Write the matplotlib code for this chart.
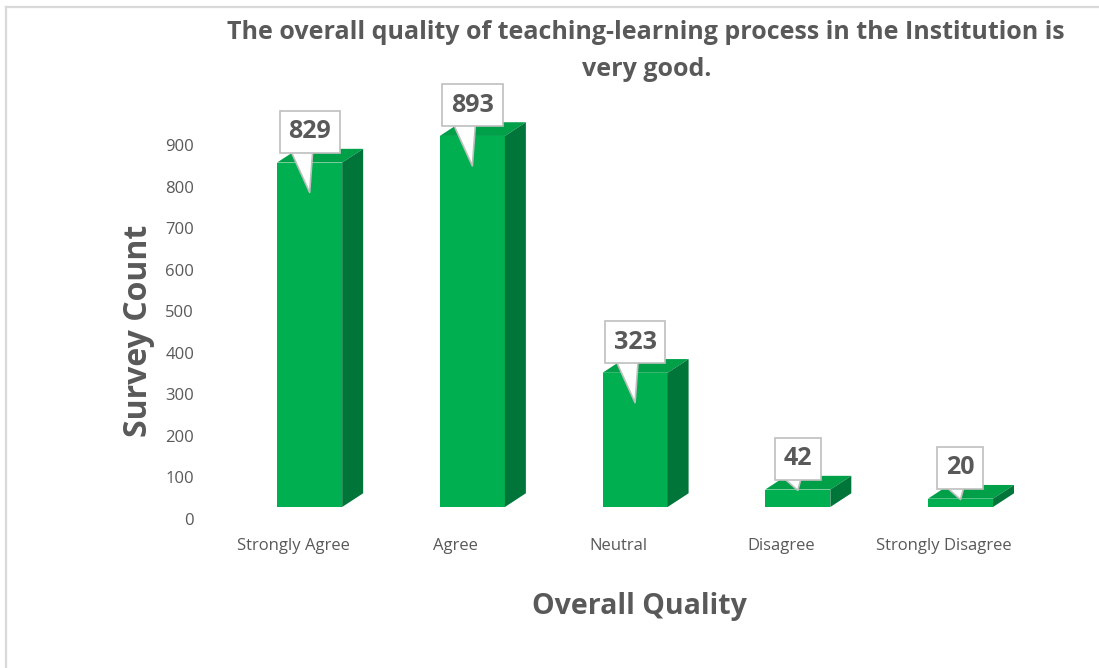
import matplotlib.pyplot as plt
from matplotlib.patches import Polygon
from matplotlib.lines import Line2D

categories = ['Strongly Agree', 'Agree', 'Neutral', 'Disagree', 'Strongly Disagree']
counts = [829, 893, 323, 42, 20]
y_ticks = [0, 100, 200, 300, 400, 500, 600, 700, 800, 900]

TITLE = 'The overall quality of teaching-learning process in the Institution is\nvery good.'
TEXT_GRAY = '#595959'
FRONT = '#00b050'
TOP = '#00a049'
SIDE = '#00753a'

plt.rcParams['font.family'] = ['Open Sans', 'DejaVu Sans']


def main():
    fig = plt.figure(figsize=(10.99, 6.68), dpi=100)
    ax = fig.add_axes([0.1778, 0.223, 0.7699, 0.622])
    ax.set_xlim(-0.6, 4.6)
    ax.set_ylim(0, 1000)

    # fake 3d columns: front face, top and right side
    base = 29
    x0, width = -0.098, 0.40
    dx, dy = 0.129, 33
    for i, v in enumerate(counts):
        left = i + x0
        right = left + width
        top = base + v
        ax.bar(left, v, width=width, bottom=base, align='edge', color=FRONT, zorder=2)
        ax.add_patch(Polygon([(left, top), (right, top), (right + dx, top + dy), (left + dx, top + dy)],
                             closed=True, fc=TOP, ec='none', zorder=2))
        ax.add_patch(Polygon([(right, base), (right + dx, base + dy), (right + dx, top + dy), (right, top)],
                             closed=True, fc=SIDE, ec='none', zorder=2))

        cx = left + width / 2
        tip = top - 72 if v > 150 else top - 2
        ax.annotate(str(v), xy=(cx, tip), xytext=(cx, top + 74),
                    ha='center', va='center', fontsize=18, fontweight='bold', color=TEXT_GRAY,
                    bbox=dict(boxstyle='square,pad=0.35', fc='white', ec='#bfbfbf', lw=1.2),
                    arrowprops=dict(arrowstyle='wedge,tail_width=0.9', fc='white', ec='#bfbfbf',
                                    lw=1.2, relpos=(0.3, 0.0), shrinkA=0, shrinkB=0,
                                    patchA=None, mutation_scale=20),
                    zorder=5)

    ax.set_xticks(range(len(categories)))
    ax.set_xticklabels(categories, fontsize=12, color=TEXT_GRAY)
    ax.set_yticks(y_ticks)
    ax.set_yticklabels([str(t) for t in y_ticks], fontsize=12, color=TEXT_GRAY)
    ax.tick_params(axis='y', length=0, pad=1)
    ax.tick_params(axis='x', length=0, pad=14)
    for s in ax.spines.values():
        s.set_visible(False)

    fig.text(0.126, 0.505, 'Survey Count', rotation=90, ha='center', va='center',
             fontsize=23, fontweight='bold', color=TEXT_GRAY)
    fig.text(0.582, 0.092, 'Overall Quality', ha='center', va='center',
             fontsize=20.5, fontweight='bold', color=TEXT_GRAY)
    fig.text(0.588, 0.924, TITLE, ha='center', va='center', fontsize=18,
             fontweight='bold', color=TEXT_GRAY, linespacing=1.65)

    # chart border (only left and top visible in the crop)
    fig.add_artist(Line2D([0.0055, 0.0055], [0, 0.9895], transform=fig.transFigure, color='#d9d9d9', lw=1.6))
    fig.add_artist(Line2D([0.0055, 1], [0.9895, 0.9895], transform=fig.transFigure, color='#d9d9d9', lw=1.6))

    fig.savefig('out.png', dpi=100)


if __name__ == '__main__':
    main()
